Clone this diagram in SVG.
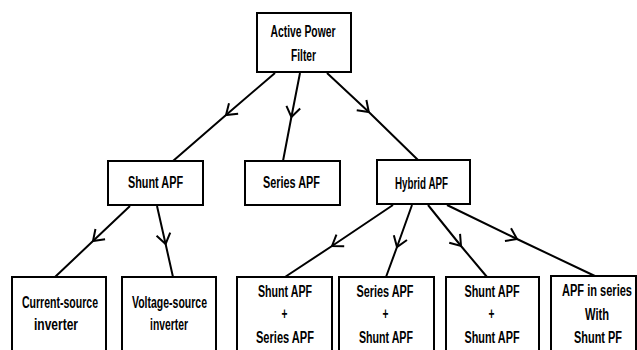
<svg xmlns="http://www.w3.org/2000/svg" width="637" height="350" viewBox="0 0 637 350">
<style>
.box{fill:#fff;stroke:#000;stroke-width:2}
.t{font-family:"Liberation Sans",Arial,sans-serif;font-size:17px;font-weight:bold;fill:#000;text-anchor:middle}
.c{fill:none;stroke:#000;stroke-width:2;marker-mid:url(#chev)}
</style>
<defs>
<marker id="chev" markerUnits="userSpaceOnUse" orient="auto" refX="0" refY="0" markerWidth="20" markerHeight="20" viewBox="-12 -10 14 20" overflow="visible">
<path d="M -10 -7 L 0 0 L -10 7" fill="none" stroke="#000" stroke-width="2"/>
</marker>
</defs>
<rect width="637" height="350" fill="#fff"/>
<g id="connectors">
<path class="c" d="M275 73 L226 115 L173 161"/>
<path class="c" d="M300 73 L291.4 117 L283 161"/>
<path class="c" d="M327 73 L368.8 112 L418 160"/>
<path class="c" d="M130 206 L93 241 L55 277"/>
<path class="c" d="M157 206 L165.6 244 L173 277"/>
<path class="c" d="M393 205 L332 246 L285 277"/>
<path class="c" d="M412 205 L397 247 L386 277"/>
<path class="c" d="M428 205 L461 246 L487 277"/>
<path class="c" d="M447 205 L517 239 L597 277"/>
</g>
<g id="apf">
<rect class="box" x="257" y="13" width="94" height="59"/>
<text class="t" transform="scale(0.6 1)" x="505" y="37" textLength="108.3" lengthAdjust="spacingAndGlyphs">Active Power</text>
<text class="t" transform="scale(0.6 1)" x="505.8" y="61" textLength="41.7" lengthAdjust="spacingAndGlyphs">Filter</text>
</g>
<g id="shunt">
<rect class="box" x="108" y="161" width="95" height="44"/>
<text class="t" transform="scale(0.6 1)" x="259.2" y="188" textLength="91.7" lengthAdjust="spacingAndGlyphs">Shunt APF</text>
</g>
<g id="series">
<rect class="box" x="245" y="161" width="95" height="44"/>
<text class="t" transform="scale(0.6 1)" x="485.8" y="188" textLength="95" lengthAdjust="spacingAndGlyphs">Series APF</text>
</g>
<g id="hybrid">
<rect class="box" x="377" y="160" width="93" height="44"/>
<text class="t" transform="scale(0.6 1)" x="702.5" y="189" textLength="88.3" lengthAdjust="spacingAndGlyphs">Hybrid APF</text>
</g>
<g id="current">
<rect class="box" x="12" y="277" width="94" height="83"/>
<text class="t" transform="scale(0.6 1)" x="100" y="308" textLength="126.7" lengthAdjust="spacingAndGlyphs">Current-source</text>
<text class="t" transform="scale(0.6 1)" x="93.3" y="330" textLength="73.3" lengthAdjust="spacingAndGlyphs">inverter</text>
</g>
<g id="voltage">
<rect class="box" x="122" y="277" width="94" height="83"/>
<text class="t" transform="scale(0.6 1)" x="282.5" y="308" textLength="125" lengthAdjust="spacingAndGlyphs">Voltage-source</text>
<text class="t" transform="scale(0.6 1)" x="281.7" y="330" textLength="63.3" lengthAdjust="spacingAndGlyphs">inverter</text>
</g>
<g id="shunt-series">
<rect class="box" x="237" y="277" width="95" height="83"/>
<text class="t" transform="scale(0.6 1)" x="475" y="297" textLength="90" lengthAdjust="spacingAndGlyphs">Shunt APF</text>
<text class="t" transform="scale(0.6 1)" x="474.2" y="319">+</text>
<text class="t" transform="scale(0.6 1)" x="475" y="343" textLength="96.7" lengthAdjust="spacingAndGlyphs">Series APF</text>
</g>
<g id="series-shunt">
<rect class="box" x="339" y="277" width="95" height="83"/>
<text class="t" transform="scale(0.6 1)" x="641.7" y="297" textLength="95" lengthAdjust="spacingAndGlyphs">Series APF</text>
<text class="t" transform="scale(0.6 1)" x="642.5" y="319">+</text>
<text class="t" transform="scale(0.6 1)" x="643.3" y="343" textLength="90" lengthAdjust="spacingAndGlyphs">Shunt APF</text>
</g>
<g id="shunt-shunt">
<rect class="box" x="446" y="277" width="93" height="83"/>
<text class="t" transform="scale(0.6 1)" x="820" y="297" textLength="91.7" lengthAdjust="spacingAndGlyphs">Shunt APF</text>
<text class="t" transform="scale(0.6 1)" x="819.2" y="319">+</text>
<text class="t" transform="scale(0.6 1)" x="820" y="343" textLength="91.7" lengthAdjust="spacingAndGlyphs">Shunt APF</text>
</g>
<g id="apf-series">
<rect class="box" x="551" y="276" width="85" height="84"/>
<text class="t" transform="scale(0.6 1)" x="995" y="296" textLength="116.7" lengthAdjust="spacingAndGlyphs">APF in series</text>
<text class="t" transform="scale(0.6 1)" x="995" y="320" textLength="40" lengthAdjust="spacingAndGlyphs">With</text>
<text class="t" transform="scale(0.6 1)" x="996.7" y="343" textLength="80" lengthAdjust="spacingAndGlyphs">Shunt PF</text>
</g>
</svg>
